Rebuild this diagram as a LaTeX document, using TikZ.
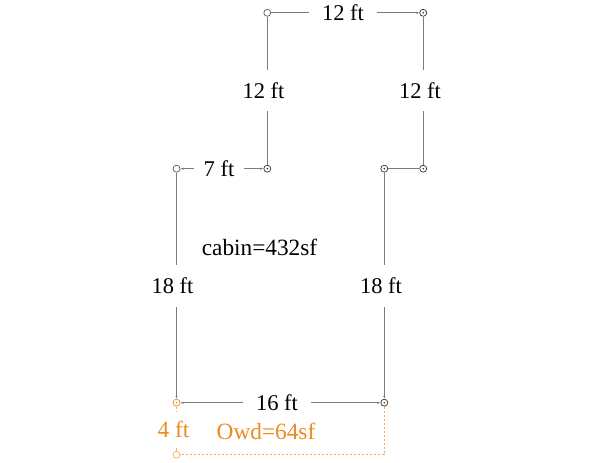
\documentclass[tikz,border=0pt]{standalone}
\usepackage{fontspec}
\setmainfont{Liberation Serif}
\usetikzlibrary{arrows.meta}
\definecolor{lineg}{HTML}{7C7C7C}
\definecolor{owd}{HTML}{EE8A1E}
\tikzset{
  vertex/.style={circle,draw=#1,line width=.7pt,fill=white,minimum size=7pt,inner sep=0pt},
  vertex/.default=black!65,
  dotted vertex/.style={vertex=#1,path picture={\fill[#1] (path picture bounding box.center) circle (.9pt);}},
  dotted vertex/.default=black!80,
  dim/.style={font=\fontsize{22.5}{25}\selectfont,inner sep=0pt,anchor=center},
  big/.style={font=\fontsize{23.3}{26}\selectfont,inner sep=0pt,anchor=center},
  wall/.style={draw=lineg,line width=.9pt},
  tipped/.style={wall,-{Latex[length=3pt,width=2.4pt]}},
  extra/.style={draw=owd!70,line width=.9pt,dash pattern=on 2.5pt off 1.5pt}
}
\begin{document}
\begin{tikzpicture}[x=1pt,y=-1pt]
\useasboundingbox (0,0) rectangle (600,463);
\node[vertex] (A) at (267.3,12.8) {};
\node[dotted vertex] (B) at (423.2,12.8) {};
\node[dotted vertex] (C) at (423.2,168.7) {};
\node[dotted vertex] (D) at (384.3,168.7) {};
\node[dotted vertex] (E) at (384.3,402.7) {};
\node[dotted vertex=owd] (F) at (176.5,402.7) {};
\node[vertex] (G) at (176.5,168.7) {};
\node[dotted vertex] (H) at (267.3,168.7) {};
\node[vertex=owd!70] (I) at (176.5,454.7) {};
\coordinate (J) at (384.3,454.7);
\node[dim,minimum width=67pt] (top) at (343,12.8) {12 ft};
\node[dim,minimum height=41pt] (l12) at (263.5,90.5) {12 ft};
\node[dim,minimum height=41pt] (r12) at (420,90.5) {12 ft};
\node[dim,minimum width=49pt] (seven) at (219,168.7) {7 ft};
\node[dim,minimum height=42pt] (l18) at (172.5,286) {18 ft};
\node[dim,minimum height=42pt] (r18) at (381,286) {18 ft};
\node[dim,minimum width=67pt] (bot) at (277,402.7) {16 ft};
\node[big] (cabin) at (259.5,247.5) {cabin=432sf};
\node[big,text=owd,minimum height=36pt] (four) at (173.5,429) {4 ft};
\node[big,text=owd] (owdtxt) at (266,431) {Owd=64sf};
\draw[wall] (A) -- (top);
\draw[tipped] (top) -- (B);
\draw[wall] (A) -- (A |- l12.north);
\draw[wall] (A |- l12.south) -- (H);
\draw[wall] (B) -- (B |- r12.north);
\draw[wall] (B |- r12.south) -- (C);
\draw[wall] (C) -- (D);
\draw[tipped] (seven) -- (G);
\draw[tipped] (seven) -- (H);
\draw[wall] (D) -- (D |- r18.north);
\draw[tipped] (D |- r18.south) -- (E);
\draw[wall] (G) -- (G |- l18.north);
\draw[tipped] (G |- l18.south) -- (F);
\draw[tipped] (bot) -- (F);
\draw[tipped] (bot) -- (E);
\draw[extra] (E) -- (J) -- (I);
\draw[extra] (F) -- (F |- four.north);
\draw[extra] (I) -- (I |- four.south);
\end{tikzpicture}
\end{document}
